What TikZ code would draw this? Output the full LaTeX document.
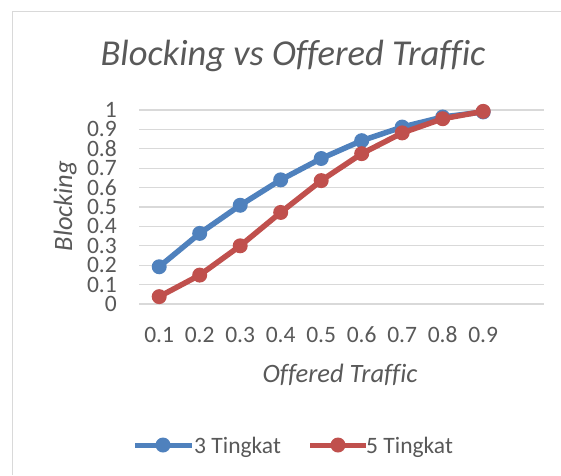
\documentclass[tikz,border=0pt]{standalone}
\usepackage{fontspec}
\setmainfont{Carlito}[Ligatures=NoCommon]
\definecolor{txt}{HTML}{595959}
\definecolor{grid}{HTML}{D9D9D9}
\definecolor{sblue}{HTML}{4F81BD}
\definecolor{sred}{HTML}{C0504D}
\tikzset{
  gridline/.style={draw=grid, line width=1.2pt},
  bseries/.style={draw=sblue, line width=5.5pt, line join=round},
  rseries/.style={draw=sred, line width=5.5pt, line join=round},
  bmark/.style={circle, fill=sblue, inner sep=0pt, minimum size=15pt},
  rmark/.style={circle, fill=sred, inner sep=0pt, minimum size=15pt},
  ticklab/.style={text=txt, font=\fontsize{23.5}{23.5}\selectfont, inner sep=0pt},
  ytick/.style={ticklab, text height=14.8pt, text depth=0pt, anchor=east},
  axtitle/.style={text=txt, font=\itshape\fontsize{26.5}{26.5}\selectfont, inner sep=0pt},
}
\begin{document}
\begin{tikzpicture}[x=1pt, y=-1pt]
\useasboundingbox (0,0) rectangle (561,475);
\fill[white] (0,0) rectangle (561,475);
\draw[grid, line width=1.5pt] (12.5,475) -- (12.5,11.5) -- (561,11.5);
\node[text=txt, font=\itshape\fontsize{36.5}{36.5}\selectfont, inner sep=0pt, anchor=base] (title) at (293,65) {Blocking vs Offered Traffic};
% grid
\foreach \i in {0,...,10} {
  \pgfmathsetmacro{\yy}{304-19.4*\i}
  \draw[gridline] (139,\yy) -- (544,\yy);
}
\foreach \i/\l in {0/0,1/0.1,2/0.2,3/0.3,4/0.4,5/0.5,6/0.6,7/0.7,8/0.8,9/0.9,10/1} {
  \pgfmathsetmacro{\yy}{304-19.4*\i}
  \node[ytick] (yl\i) at (117,\yy) {\l};
}
\foreach \i in {1,...,9} {
  \pgfmathsetmacro{\xx}{159.2+40.5*(\i-1)}
  \node[ticklab, anchor=base] (xl\i) at (\xx,342) {0.\i};
}
\node[axtitle, rotate=90, anchor=base] (ylab) at (72,206) {Blocking};
\node[axtitle, anchor=base] (xlab) at (340,382) {Offered Traffic};
% data
\def\B{{0.192,0.364,0.509,0.640,0.750,0.842,0.912,0.964,0.99}}
\def\R{{0.038,0.149,0.300,0.472,0.636,0.775,0.882,0.955,0.993}}
\foreach \i in {0,...,8} {
  \pgfmathsetmacro{\xx}{159.2+40.5*\i}
  \pgfmathsetmacro{\yb}{304-194*\B[\i]}
  \pgfmathsetmacro{\yr}{304-194*\R[\i]}
  \coordinate (b\i) at (\xx,\yb);
  \coordinate (r\i) at (\xx,\yr);
}
\draw[bseries] (b0) -- (b1) -- (b2) -- (b3) -- (b4) -- (b5) -- (b6) -- (b7) -- (b8);
\foreach \i in {0,...,8} \node[bmark] (bm\i) at (b\i) {};
\draw[rseries] (r0) -- (r1) -- (r2) -- (r3) -- (r4) -- (r5) -- (r6) -- (r7) -- (r8);
\foreach \i in {0,...,8} \node[rmark] (rm\i) at (r\i) {};
% legend
\coordinate (lb1) at (135,445); \coordinate (lb2) at (192,445);
\draw[bseries, line width=5pt] (lb1) -- (lb2);
\node[bmark] (lbm) at (163,445) {};
\node[ticklab, anchor=base west] (lbt) at (194,453) {3 Tingkat};
\coordinate (lr1) at (310,445); \coordinate (lr2) at (366,445);
\draw[rseries, line width=5pt] (lr1) -- (lr2);
\node[rmark] (lrm) at (338,445) {};
\node[ticklab, anchor=base west] (lrt) at (366,453) {5 Tingkat};
\end{tikzpicture}
\end{document}
